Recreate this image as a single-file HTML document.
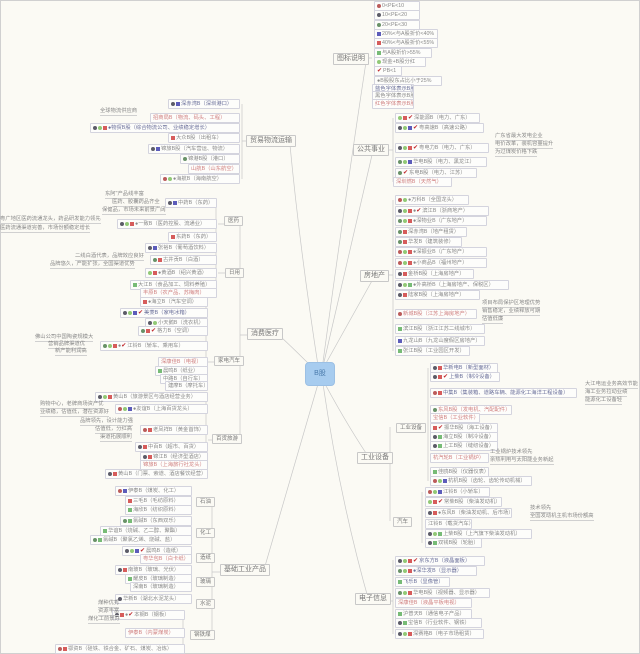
<!DOCTYPE html>
<html><head><meta charset="utf-8"><style>
html,body{margin:0;padding:0}
body{width:640px;height:654px;background:#fbfaf4;position:relative;overflow:hidden;font-family:"Liberation Sans","Noto Sans CJK SC",sans-serif;}
#frame{position:absolute;left:0;top:0;width:638px;height:652px;border:1px solid #d0d0d0;}
.n{position:absolute;font-size:5.3px;line-height:8px;height:8px;border:1px solid #d4d4de;border-radius:1px;background:#fdfdfb;color:#8a8a8a;white-space:nowrap;overflow:hidden;padding:0 2px;box-sizing:content-box}
.b{color:#6a6f9a}.r{color:#d08080}.g{color:#7a9a6a}
.a{position:absolute;font-size:5.3px;line-height:7px;color:#888;white-space:nowrap;border-bottom:1px solid #d0d0d0}
.L{position:absolute;font-size:7px;line-height:10px;height:10px;border:1px solid #c8c8c8;background:#fbfaf4;color:#777;padding:0 3px;white-space:nowrap;border-radius:1px}
.S{font-size:5.5px!important;height:8px!important;line-height:8px!important}
.i{display:inline-block;width:4px;height:4px;border-radius:50%;margin-right:1px;vertical-align:middle;opacity:.8}
.f{display:inline-block;width:4px;height:4px;margin-right:1px;vertical-align:middle;opacity:.8}
.k{color:#c0282d;font-size:6px;margin-right:1px}
#c{position:absolute;left:305px;top:362px;width:28px;height:22px;background:#a7ccef;border:1px solid #9cc0e4;border-radius:4px;color:#4a7bac;font-size:7px;line-height:22px;text-align:center}
</style></head><body>
<div id="frame"></div>
<svg width="640" height="654" style="position:absolute;left:0;top:0" fill="none" stroke="#c8c8c8" stroke-width="0.7">
<path d="M319 372 Q300 250 290 145 M317 372 Q295 350 281 337 M318 384 Q290 480 263 573 M323 362 Q345 200 366 62 M324 362 Q350 250 372 155 M325 365 Q350 320 373 279 M325 384 Q350 430 372 462 M323 384 Q340 500 370 605"/>
<path d="M242 104 V179 M242 141 H246 M240 221 V438 M240 335 H247 M212 502 V636 M212 572 H220 M190 491 V510 M190 521 V540 M190 551 V559 M190 570 V587 M183 615 V649"/>
<path d="M393 6 V104 M366 58 H372 M393 118 V182 M387 150 H393 M393 200 V351 M385 275 H393 M390 427 V521 M387 458 H390 M428 368 V481 M422 492 V543 M393 560 V634 M385 601 H393"/>
<path d="M216 203 V237 M216 248 V293 M206 302 V386 M206 397 V474 M225 224 H218 M225 273 H218 M214 362 H208 M212 440 H208"/>
</svg>
<div id="c">B股</div>

<div class="L" style="left:246px;top:135px">贸易物流运输</div>
<div class="n b" style="left:168px;top:99px;width:66px"><span class="i" style="background:#334"></span><span class="f" style="background:#33a"></span>深赤湾B（深圳港口）</div>
<div class="a" style="left:100px;top:108px">全球物流供应商</div>
<div class="n r" style="left:150px;top:113px;width:84px">招商局B（物流、码头、工程）</div>
<div class="n b" style="left:90px;top:123px;width:144px"><span class="i" style="background:#334"></span><span class="i" style="background:#7b5"></span><span class="f" style="background:#c33"></span>●物贸B股（综合物流公司、业绩稳定增长）</div>
<div class="n" style="left:168px;top:133px;width:66px"><span class="f" style="background:#c33"></span>大众B股（出租车）</div>
<div class="n" style="left:148px;top:144px;width:86px"><span class="i" style="background:#334"></span><span class="f" style="background:#33a"></span>锦旅B股（汽车营运、物流）</div>
<div class="n" style="left:180px;top:154px;width:54px"><span class="i" style="background:#474"></span>锦港B股（港口）</div>
<div class="n r" style="left:188px;top:164px;width:46px">山航B（山东航空）</div>
<div class="n" style="left:160px;top:174px;width:74px"><span class="i" style="background:#a33"></span><span class="i" style="background:#7b5"></span>●海航B（海南航空）</div>

<div class="L" style="left:247px;top:328px">消费医疗</div>
<div class="L S" style="left:224px;top:216px">医药</div>
<div class="L S" style="left:225px;top:268px">日用</div>
<div class="L S" style="left:214px;top:356px">家电汽车</div>
<div class="L S" style="left:212px;top:434px">百货旅游</div>
<div class="a" style="left:105px;top:191px">东阿"产品线丰富</div>
<div class="a" style="left:112px;top:199px">医药、胶囊药品齐全</div>
<div class="a" style="left:102px;top:207px">保健品，市场未来前景广阔</div>
<div class="n" style="left:165px;top:198px;width:46px"><span class="i" style="background:#334"></span><span class="f" style="background:#33a"></span>中药B（东药）</div>
<div class="a" style="left:0px;top:216px">粤广地区医药流通龙头，药品研发能力领先</div>
<div class="a" style="left:0px;top:225px">医药流通渠道完善，市场份额稳定增长</div>
<div class="n" style="left:117px;top:219px;width:94px"><span class="i" style="background:#334"></span><span class="i" style="background:#7b5"></span><span class="f" style="background:#c33"></span>●一致B（医药控股、流通业）</div>
<div class="n" style="left:168px;top:232px;width:43px"><span class="f" style="background:#c33"></span>东药B（东药）</div>
<div class="n" style="left:145px;top:243px;width:66px"><span class="i" style="background:#334"></span><span class="f" style="background:#33a"></span>张裕B（葡萄酒饮料）</div>
<div class="a" style="left:75px;top:253px">二线白酒代表，品牌效应良好</div>
<div class="a" style="left:50px;top:261px">品牌悠久，产能扩张，全国渠道优势</div>
<div class="n" style="left:150px;top:255px;width:61px"><span class="i" style="background:#474"></span><span class="f" style="background:#c33"></span>古井贡B（白酒）</div>
<div class="n" style="left:145px;top:268px;width:66px"><span class="i" style="background:#7b5"></span><span class="f" style="background:#c33"></span>●黄酒B（绍兴黄酒）</div>
<div class="n" style="left:130px;top:280px;width:81px"><span class="f" style="background:#5a5"></span>大江B（食品加工、饲料养殖）</div>
<div class="n r" style="left:140px;top:288px;width:71px">丰原B（农产品、苏梅肉）</div>
<div class="n" style="left:140px;top:297px;width:62px"><span class="f" style="background:#c33"></span>●海立B（汽车空调）</div>
<div class="n b" style="left:120px;top:308px;width:82px"><span class="i" style="background:#334"></span><span class="i" style="background:#7b5"></span><span class="f" style="background:#33a"></span><span class="k">✔</span>美菱B（家电冰箱）</div>
<div class="n" style="left:145px;top:318px;width:57px"><span class="i" style="background:#334"></span><span class="i" style="background:#7b5"></span>小天鹅B（洗衣机）</div>
<div class="n" style="left:138px;top:326px;width:64px"><span class="i" style="background:#474"></span><span class="f" style="background:#c33"></span><span class="k">✔</span>格力B（空调）</div>
<div class="a" style="left:35px;top:334px">佛山公司中国陶瓷规模大</div>
<div class="a" style="left:48px;top:341px">营销品牌渠道优</div>
<div class="a" style="left:55px;top:348px">新产能利润高</div>
<div class="n" style="left:100px;top:341px;width:102px"><span class="i" style="background:#474"></span><span class="i" style="background:#7b5"></span><span class="f" style="background:#c33"></span>●<span class="k">✔</span>江铃B（轿车、乘用车）</div>
<div class="n r" style="left:158px;top:357px;width:44px">深康佳B（电视）</div>
<div class="n" style="left:155px;top:366px;width:47px"><span class="f" style="background:#5a5"></span>晨鸣B（纸业）</div>
<div class="n" style="left:160px;top:374px;width:42px">中路B（自行车）</div>
<div class="n" style="left:165px;top:381px;width:37px">建摩B（摩托车）</div>
<div class="n" style="left:95px;top:392px;width:107px"><span class="i" style="background:#334"></span><span class="i" style="background:#7b5"></span><span class="f" style="background:#c33"></span>黄山B（旅游景区与酒店经营业务）</div>
<div class="a" style="left:40px;top:401px">购物中心，老牌商场资产优</div>
<div class="a" style="left:40px;top:409px">业绩稳，估值低，潜在资源好</div>
<div class="n" style="left:115px;top:404px;width:87px"><span class="i" style="background:#a33"></span><span class="i" style="background:#7b5"></span><span class="f" style="background:#33a"></span>●友谊B（上海百货龙头）</div>
<div class="a" style="left:80px;top:418px">品牌领先，设计能力强</div>
<div class="a" style="left:95px;top:426px">估值低，分红高</div>
<div class="a" style="left:100px;top:434px">渠道拓展顺利</div>
<div class="n" style="left:140px;top:425px;width:62px"><span class="i" style="background:#a33"></span><span class="f" style="background:#c33"></span>老凤祥B（黄金首饰）</div>
<div class="n" style="left:135px;top:442px;width:67px"><span class="i" style="background:#334"></span><span class="f" style="background:#c33"></span>中百B（超市、百货）</div>
<div class="n" style="left:140px;top:452px;width:62px"><span class="i" style="background:#334"></span><span class="f" style="background:#c33"></span>锦江B（经济型酒店）</div>
<div class="n r" style="left:140px;top:460px;width:62px">锦旅B（上海旅行社龙头）</div>
<div class="n" style="left:105px;top:469px;width:97px"><span class="i" style="background:#334"></span><span class="f" style="background:#c33"></span>黄山B（门票、索道、酒店餐饮经营）</div>

<div class="L" style="left:220px;top:564px">基础工业产品</div>
<div class="L S" style="left:196px;top:497px">石油</div>
<div class="L S" style="left:196px;top:528px">化工</div>
<div class="L S" style="left:196px;top:553px">造纸</div>
<div class="L S" style="left:196px;top:577px">玻璃</div>
<div class="L S" style="left:196px;top:599px">水泥</div>
<div class="L S" style="left:190px;top:630px">钢铁煤</div>
<div class="n" style="left:115px;top:486px;width:71px"><span class="i" style="background:#a33"></span><span class="f" style="background:#33a"></span>伊泰B（煤炭、化工）</div>
<div class="n" style="left:125px;top:496px;width:61px"><span class="f" style="background:#c33"></span>三毛B（毛纺原料）</div>
<div class="n" style="left:125px;top:505px;width:61px"><span class="f" style="background:#5a5"></span>海欣B（纺织原料）</div>
<div class="n" style="left:120px;top:516px;width:66px"><span class="i" style="background:#474"></span><span class="f" style="background:#5a5"></span>氯碱B（东西双乐）</div>
<div class="n" style="left:100px;top:526px;width:86px"><span class="f" style="background:#5a5"></span>华谊B（烧碱、乙二醇、聚酯）</div>
<div class="n" style="left:90px;top:535px;width:96px"><span class="i" style="background:#474"></span><span class="f" style="background:#5a5"></span>氯碱B（聚氯乙烯、烧碱、盐）</div>
<div class="n" style="left:122px;top:546px;width:64px"><span class="i" style="background:#334"></span><span class="i" style="background:#7b5"></span><span class="f" style="background:#33a"></span><span class="k">✔</span>晨鸣B（造纸）</div>
<div class="n r" style="left:140px;top:554px;width:46px">粤华包B（白卡纸）</div>
<div class="n" style="left:115px;top:565px;width:71px"><span class="i" style="background:#334"></span><span class="f" style="background:#c33"></span>南玻B（玻璃、光伏）</div>
<div class="n" style="left:125px;top:574px;width:61px"><span class="f" style="background:#5a5"></span>耀皮B（玻璃制造）</div>
<div class="n" style="left:130px;top:582px;width:56px">深南B（玻璃制造）</div>
<div class="n" style="left:115px;top:594px;width:71px"><span class="i" style="background:#334"></span>华新B（湖北水泥龙头）</div>
<div class="n" style="left:112px;top:610px;width:67px"><span class="i" style="background:#334"></span><span class="f" style="background:#c33"></span>●<span class="k">✔</span>本钢B（钢板）</div>
<div class="a" style="left:98px;top:600px">煤种优秀</div>
<div class="a" style="left:98px;top:608px">资源丰富</div>
<div class="a" style="left:88px;top:616px">煤化工前景好</div>
<div class="n r" style="left:125px;top:628px;width:54px">伊泰B（内蒙煤炭）</div>
<div class="n" style="left:55px;top:644px;width:124px"><span class="i" style="background:#a33"></span><span class="f" style="background:#c33"></span>鄂资B（硅铁、铁合金、矿石、煤炭、冶炼）</div>

<div class="L" style="left:333px;top:53px">图标说明</div>
<div class="n" style="left:374px;top:1px;width:40px"><span class="i" style="background:#a33"></span>0&lt;PE&lt;10</div>
<div class="n" style="left:374px;top:10px;width:40px"><span class="i" style="background:#334"></span>10&lt;PE&lt;20</div>
<div class="n" style="left:374px;top:20px;width:40px"><span class="i" style="background:#474"></span>20&lt;PE&lt;30</div>
<div class="n" style="left:374px;top:29px;width:58px"><span class="f" style="background:#33a"></span>20%&lt;与A股折价&lt;40%</div>
<div class="n" style="left:374px;top:38px;width:58px"><span class="f" style="background:#c33"></span>40%&lt;与A股折价&lt;55%</div>
<div class="n" style="left:374px;top:48px;width:52px"><span class="f" style="background:#5a5"></span>与A股折价&gt;55%</div>
<div class="n" style="left:374px;top:57px;width:46px"><span class="i" style="background:#7b5"></span>现金+B股分红</div>
<div class="n" style="left:374px;top:66px;width:22px"><span class="k">✔</span>PB&lt;1</div>
<div class="n" style="left:374px;top:76px;width:62px">●B股股东占比小于25%</div>
<div class="n b" style="left:372px;top:84px;width:36px">蓝色字体表示B股</div>
<div class="n" style="left:372px;top:91px;width:36px">黑色字体表示B股</div>
<div class="n r" style="left:372px;top:99px;width:36px">红色字体表示B股</div>

<div class="L" style="left:353px;top:144px">公共事业</div>
<div class="n" style="left:395px;top:113px;width:79px"><span class="i" style="background:#7b5"></span><span class="f" style="background:#c33"></span><span class="k">✔</span>深能源B（电力、广东）</div>
<div class="n" style="left:395px;top:123px;width:83px"><span class="i" style="background:#334"></span><span class="i" style="background:#7b5"></span><span class="f" style="background:#33a"></span><span class="k">✔</span>粤高速B（高速公路）</div>
<div class="a" style="left:495px;top:133px">广东省最大发电企业</div>
<div class="a" style="left:495px;top:141px">电价改革，装机容量提升</div>
<div class="a" style="left:495px;top:149px">为过煤炭价格下跌</div>
<div class="n" style="left:395px;top:143px;width:88px"><span class="i" style="background:#334"></span><span class="i" style="background:#7b5"></span><span class="f" style="background:#c33"></span><span class="k">✔</span>粤电力B（电力、广东）</div>
<div class="n" style="left:395px;top:157px;width:86px"><span class="i" style="background:#474"></span><span class="i" style="background:#7b5"></span><span class="f" style="background:#33a"></span>华电B股（电力、黑龙江）</div>
<div class="n" style="left:395px;top:168px;width:76px"><span class="i" style="background:#474"></span><span class="k">✔</span>东电B股（电力、江苏）</div>
<div class="n r" style="left:393px;top:177px;width:53px">深圳燃B（天然气）</div>

<div class="L" style="left:360px;top:270px">房地产</div>
<div class="n" style="left:395px;top:195px;width:68px"><span class="i" style="background:#a33"></span><span class="i" style="background:#7b5"></span>●万科B（全国龙头）</div>
<div class="n" style="left:395px;top:206px;width:88px"><span class="i" style="background:#334"></span><span class="i" style="background:#7b5"></span><span class="f" style="background:#c33"></span>●<span class="k">✔</span>滨江B（浙商地产）</div>
<div class="n" style="left:395px;top:216px;width:86px"><span class="i" style="background:#474"></span><span class="i" style="background:#7b5"></span><span class="f" style="background:#c33"></span>●深物业B（广东地产）</div>
<div class="n" style="left:395px;top:227px;width:66px"><span class="i" style="background:#474"></span><span class="f" style="background:#c33"></span>深赤湾B（地产租赁）</div>
<div class="n" style="left:395px;top:237px;width:61px"><span class="i" style="background:#474"></span><span class="f" style="background:#c33"></span>华发B（建筑装修）</div>
<div class="n" style="left:395px;top:247px;width:86px"><span class="i" style="background:#a33"></span><span class="i" style="background:#7b5"></span><span class="f" style="background:#c33"></span>●深振业B（广东地产）</div>
<div class="n" style="left:395px;top:258px;width:86px"><span class="i" style="background:#a33"></span><span class="i" style="background:#7b5"></span><span class="f" style="background:#c33"></span>●小商品B（福州地产）</div>
<div class="n" style="left:395px;top:269px;width:73px"><span class="i" style="background:#334"></span><span class="f" style="background:#c33"></span>金桥B股（上海房地产）</div>
<div class="n" style="left:395px;top:280px;width:108px"><span class="i" style="background:#334"></span><span class="i" style="background:#7b5"></span><span class="f" style="background:#5a5"></span>●外高桥B（上海房地产、保税区）</div>
<div class="n" style="left:395px;top:290px;width:79px"><span class="i" style="background:#334"></span><span class="f" style="background:#c33"></span>陆家B股（上海房地产）</div>
<div class="a" style="left:482px;top:300px">项目布局保护区地理优势</div>
<div class="a" style="left:482px;top:308px">销售稳定，业绩释放可期</div>
<div class="a" style="left:482px;top:316px">估值低廉</div>
<div class="n r" style="left:395px;top:309px;width:76px"><span class="i" style="background:#a33"></span>新城B股（江苏上海房地产）</div>
<div class="n" style="left:395px;top:324px;width:84px"><span class="f" style="background:#5a5"></span>滨江B股（浙江江苏二线城市）</div>
<div class="n" style="left:395px;top:336px;width:84px"><span class="f" style="background:#33a"></span>九龙山B（九龙山度假区房地产）</div>
<div class="n" style="left:395px;top:346px;width:69px"><span class="f" style="background:#5a5"></span>张江B股（工业园区开发）</div>

<div class="L" style="left:357px;top:452px">工业设备</div>
<div class="L S" style="left:396px;top:423px">工业设备</div>
<div class="L S" style="left:393px;top:517px">汽车</div>
<div class="n b" style="left:430px;top:363px;width:62px"><span class="i" style="background:#334"></span><span class="f" style="background:#c33"></span>华新电B（新型面材）</div>
<div class="n b" style="left:430px;top:372px;width:64px"><span class="i" style="background:#334"></span><span class="f" style="background:#c33"></span><span class="k">✔</span>上柴B（制冷设备）</div>
<div class="a" style="left:585px;top:381px">大江电运业务高效节能</div>
<div class="a" style="left:585px;top:389px">海工业务拉动业绩</div>
<div class="a" style="left:585px;top:397px">能源化工设备轻</div>
<div class="n b" style="left:430px;top:388px;width:141px"><span class="i" style="background:#a33"></span><span class="f" style="background:#c33"></span>中集B（集装箱、道路车辆、能源化工海洋工程设备）</div>
<div class="n r" style="left:430px;top:405px;width:76px"><span class="i" style="background:#474"></span>东风B股（发电机、汽配配件）</div>
<div class="n r" style="left:430px;top:413px;width:44px">宝信B（工业软件）</div>
<div class="n" style="left:430px;top:423px;width:62px"><span class="f" style="background:#c33"></span><span class="k">✔</span>振华B股（海工设备）</div>
<div class="n" style="left:430px;top:432px;width:62px"><span class="i" style="background:#334"></span><span class="f" style="background:#5a5"></span>海立B股（制冷设备）</div>
<div class="n" style="left:430px;top:441px;width:62px"><span class="i" style="background:#334"></span><span class="f" style="background:#5a5"></span>上工B股（缝纫设备）</div>
<div class="n r" style="left:430px;top:453px;width:53px">杭汽轮B（工业锅炉）</div>
<div class="a" style="left:490px;top:449px">工业锅炉技术领先</div>
<div class="a" style="left:490px;top:457px">余热利用与太阳能业务新起</div>
<div class="n" style="left:430px;top:467px;width:53px"><span class="f" style="background:#5a5"></span>佳鸥B股（仪器仪表）</div>
<div class="n" style="left:430px;top:476px;width:96px"><span class="i" style="background:#a33"></span><span class="i" style="background:#7b5"></span><span class="f" style="background:#33a"></span>杭机B股（齿轮、齿轮传动机械）</div>
<div class="n" style="left:425px;top:487px;width:59px"><span class="i" style="background:#a33"></span><span class="i" style="background:#7b5"></span><span class="f" style="background:#33a"></span>江铃B（小轿车）</div>
<div class="n" style="left:425px;top:497px;width:71px"><span class="i" style="background:#7b5"></span><span class="f" style="background:#c33"></span><span class="k">✔</span>常柴B股（柴油发动机）</div>
<div class="a" style="left:530px;top:505px">技术领先</div>
<div class="a" style="left:530px;top:513px">全国发动机主机市场份额高</div>
<div class="n" style="left:425px;top:508px;width:81px"><span class="i" style="background:#334"></span><span class="f" style="background:#c33"></span>●东风B（柴油发动机、后市场）</div>
<div class="n" style="left:425px;top:519px;width:41px">江铃B（载货汽车）</div>
<div class="n" style="left:425px;top:529px;width:101px"><span class="i" style="background:#334"></span><span class="i" style="background:#7b5"></span><span class="f" style="background:#5a5"></span>上柴B股（上汽旗下柴油发动机）</div>
<div class="n" style="left:425px;top:538px;width:51px"><span class="i" style="background:#334"></span><span class="f" style="background:#5a5"></span>双钱B股（轮胎）</div>

<div class="L" style="left:355px;top:593px">电子信息</div>
<div class="n b" style="left:395px;top:556px;width:84px"><span class="i" style="background:#334"></span><span class="i" style="background:#7b5"></span><span class="f" style="background:#c33"></span><span class="k">✔</span>京东方B（液晶面板）</div>
<div class="n b" style="left:395px;top:566px;width:76px"><span class="i" style="background:#474"></span><span class="i" style="background:#7b5"></span><span class="f" style="background:#c33"></span>●深华发B（显示器）</div>
<div class="n b" style="left:395px;top:577px;width:49px"><span class="f" style="background:#5a5"></span>飞乐B（显像管）</div>
<div class="n" style="left:395px;top:588px;width:89px"><span class="i" style="background:#474"></span><span class="i" style="background:#7b5"></span><span class="f" style="background:#c33"></span>华电B股（视频器、显示器）</div>
<div class="n r" style="left:395px;top:598px;width:71px">深康佳B（液晶平板电视）</div>
<div class="n" style="left:395px;top:609px;width:71px"><span class="f" style="background:#5a5"></span>沪普天B（通信电子产品）</div>
<div class="n" style="left:395px;top:618px;width:81px"><span class="i" style="background:#334"></span><span class="f" style="background:#5a5"></span>宝信B（行业软件、钢铁）</div>
<div class="n" style="left:395px;top:629px;width:83px"><span class="i" style="background:#334"></span><span class="i" style="background:#7b5"></span><span class="f" style="background:#c33"></span>深赛格B（电子市场租赁）</div>
</body></html>
